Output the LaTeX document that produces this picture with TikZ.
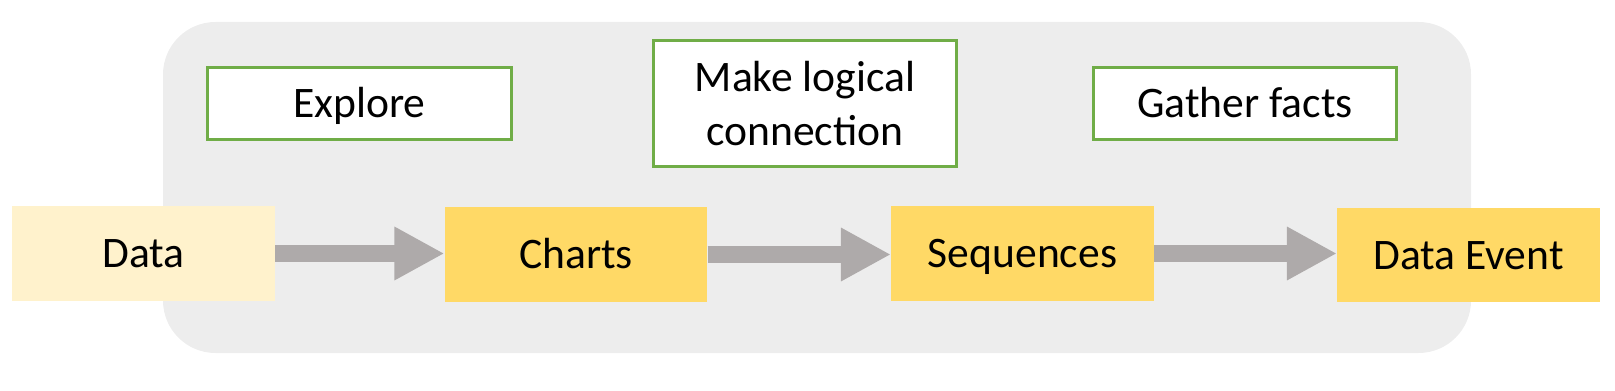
\documentclass[tikz,border=0pt]{standalone}
\usepackage{fontspec}
\setmainfont{Carlito}
\usetikzlibrary{arrows.meta,positioning,shapes}
\definecolor{panel}{HTML}{EDEDED}
\definecolor{paleyellow}{HTML}{FFF2CC}
\definecolor{gold}{HTML}{FFD966}
\definecolor{leaf}{HTML}{70AD47}
\definecolor{flowgrey}{HTML}{AEAAAA}

\begin{document}
\begin{tikzpicture}[x=0.02cm,y=-0.02cm,
  oneline/.style={text height=16pt,text depth=0pt},
  stage/.style={rectangle,oneline,inner sep=0pt,minimum width=5.25cm,minimum height=1.9cm,
    font=\fontsize{24.8}{30.7}\selectfont},
  task/.style={rectangle,draw=leaf,line width=1.7pt,fill=white,inner sep=0pt,
    minimum width=6.07cm,minimum height=1.44cm,align=center,
    font=\fontsize{24.8}{30.7}\selectfont},
  flow/.style={draw=flowgrey,line width=0.34cm,-{Triangle[length=1cm,width=1cm]}}]
\useasboundingbox (0,0) rectangle (1615,391);
% grey panel behind the chain
\fill[panel,rounded corners=1.05cm] (163,22) rectangle (1471,353);
\node[task,oneline] (explore) at (359.5,103.5) {Explore};
\node[task,minimum height=2.52cm] (logic) at (805,103.5) {Make logical\\connection};
\node[task,oneline] (facts) at (1245,103.5) {Gather facts};
\node[stage,fill=paleyellow] (data) at (143.5,253.5) {Data};
\node[stage,fill=gold] (chart) at (576,254.5) {Charts};
\node[stage,fill=gold] (seq) at (1022.5,253.5) {Sequences};
\node[stage,fill=gold] (event) at (1468.5,255) {Data Event};
\draw[flow] (data.east) -- (data.east -| chart.west);
\draw[flow] (chart.east) -- (chart.east -| seq.west);
\draw[flow] (seq.east) -- (seq.east -| event.west);
\end{tikzpicture}
\end{document}
